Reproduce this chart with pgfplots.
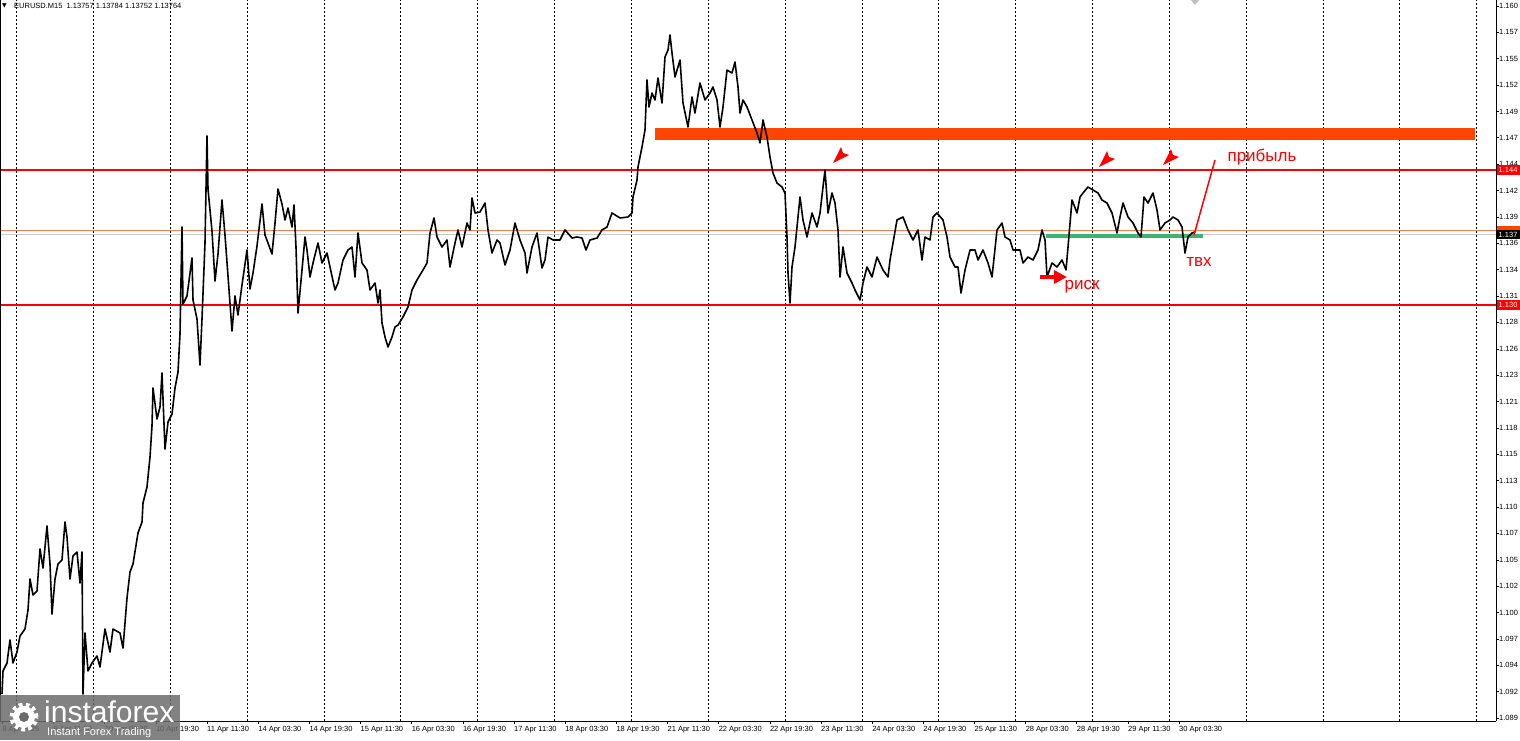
\documentclass[border=0pt]{standalone}
\usepackage{pgfplots}
\pgfplotsset{compat=1.18}
\usepackage{fontspec}
\setmainfont{Liberation Sans}
\newfontfamily\dejavu{DejaVu Sans}
\usetikzlibrary{arrows.meta}
\definecolor{obar}{RGB}{255,69,0}
\definecolor{oline}{RGB}{244,128,80}
\definecolor{gline}{RGB}{200,200,200}
\definecolor{grn}{RGB}{60,179,113}
\definecolor{mtred}{RGB}{255,0,0}
\newcommand{\tl}{\fontsize{7.5}{8}\selectfont}
\begin{document}
\begin{tikzpicture}
\begin{axis}[
  scale only axis, width=1496pt, height=721pt,
  xmin=0, xmax=1496, ymin=1.0888, ymax=1.1609,
  clip=false,
  axis x line*=bottom, axis y line*=right,
  axis line style={-, black, line width=0.8pt},
  tick align=outside,
  major tick length=3pt,
  tick style={black, line width=0.6pt},
  xtick={2.3,53.5,104.7,155.8,207,258.2,309.3,360.5,411.6,462.8,514,565.1,616.3,667.4,718.6,769.8,820.9,872.1,923.2,974.4,1025.6,1076.7,1127.9,1179},
  xticklabels={8 Apr 2025,9 Apr 11:30,10 Apr 03:30,10 Apr 19:30,11 Apr 11:30,14 Apr 03:30,14 Apr 19:30,15 Apr 11:30,16 Apr 03:30,16 Apr 19:30,17 Apr 11:30,18 Apr 03:30,18 Apr 19:30,21 Apr 11:30,22 Apr 03:30,22 Apr 19:30,23 Apr 11:30,24 Apr 03:30,24 Apr 19:30,25 Apr 11:30,28 Apr 03:30,28 Apr 19:30,29 Apr 11:30,30 Apr 03:30},
  xticklabel style={anchor=north west, inner sep=0pt, font=\tl, yshift=-2pt},
  ytick={1.1603,1.15766,1.15503,1.15239,1.14975,1.14712,1.14448,1.14184,1.1392,1.13657,1.13393,1.13129,1.12866,1.12602,1.12338,1.12074,1.11811,1.11547,1.11283,1.1102,1.10756,1.10492,1.10229,1.09965,1.09701,1.09438,1.09174,1.0891},
  yticklabels={1.160,1.157,1.155,1.152,1.149,1.147,1.144,1.142,1.139,1.136,1.134,1.131,1.128,1.126,1.123,1.121,1.118,1.115,1.113,1.110,1.107,1.105,1.102,1.100,1.097,1.094,1.092,1.089},
  yticklabel style={anchor=west, inner sep=0pt, font=\tl},
  extra x ticks={16.5,93.3,170.2,247,323.8,400.7,477.5,554.4,631.2,708.1,784.9,861.8,938.6,1015.5,1092.3,1169.2,1246,1322.9,1399.7,1476.6},
  extra x tick labels={},
  extra x tick style={grid=major, major tick length=0pt},
  major grid style={black, line width=0.6pt, dash pattern=on 2pt off 2pt},
]
% resistance / support levels
\addplot[obar, line width=12pt, forget plot] coordinates {(655,1.1475) (1475,1.1475)};
\addplot[mtred, line width=2pt, forget plot] coordinates {(0,1.1439) (1496,1.1439)};
\addplot[mtred, line width=2pt, forget plot] coordinates {(0,1.1304) (1496,1.1304)};
\addplot[oline, line width=1pt, forget plot] coordinates {(0,1.1378) (1496,1.1378)};
\addplot[gline, line width=1.5pt, forget plot] coordinates {(0,1.13745) (1496,1.13745)};
\addplot[grn, line width=4pt, forget plot] coordinates {(1046,1.1373) (1203,1.1373)};
% price
\addplot[black, line width=1.6pt, line join=round, forget plot] coordinates {
(2,1.0915) (3,1.0938) (7,1.0946) (10,1.0969) (13,1.0946) (17,1.0957) (20,1.0973) (25,1.0980) (28,1.0999) (30,1.1030)
(33,1.1014) (37,1.1018) (40,1.1060) (43,1.1041) (47,1.1083) (50,1.1045) (52,1.0995) (55,1.1030) (58,1.1045) (62,1.1049)
(65,1.1087) (67,1.1072) (70,1.1030) (73,1.1053) (77,1.1057) (80,1.1026) (82,1.1057) (83,1.0915) (85,1.0976) (88,1.0938)
(92,1.0946) (97,1.0953) (100,1.0942) (105,1.0980) (110,1.0957) (113,1.0980) (120,1.0976) (123,1.0961) (127,1.1011) (130,1.1037)
(133,1.1045) (138,1.1076) (142,1.1087) (143,1.1106) (147,1.1122) (150,1.1152) (152,1.1183) (153,1.1221) (157,1.1190) (160,1.1202)
(162,1.1236) (165,1.1160) (168,1.1187) (172,1.1195) (175,1.1221) (178,1.1237) (180,1.1275) (182,1.1382) (183,1.1305) (187,1.1313)
(192,1.1351) (193,1.1309) (197,1.1290) (200,1.1244) (202,1.1290) (205,1.1366) (207,1.1473) (208,1.1420) (212,1.1378) (215,1.1328)
(218,1.1355) (222,1.1409) (225,1.1374) (228,1.1333) (232,1.1278) (235,1.1313) (238,1.1294) (242,1.1324) (247,1.1359) (250,1.1320)
(253,1.1336) (257,1.1363) (262,1.1405) (265,1.1374) (268,1.1366) (272,1.1355) (275,1.1386) (278,1.1420) (282,1.1405) (285,1.1389)
(288,1.1401) (292,1.1382) (294,1.1404) (296,1.1362) (298,1.1296) (302,1.1339) (305,1.1372) (307,1.1359) (310,1.1332) (313,1.1346)
(318,1.1366) (322,1.1346) (327,1.1356) (330,1.1342) (335,1.1319) (338,1.1326) (343,1.1349) (348,1.1359) (352,1.1362) (355,1.1332)
(358,1.1376) (362,1.1346) (367,1.1339) (370,1.1319) (375,1.1326) (378,1.1306) (380,1.1319) (382,1.1286) (385,1.1272) (388,1.1262)
(392,1.1272) (395,1.1282) (398,1.1284) (403,1.1292) (408,1.1302) (412,1.1319) (417,1.1329) (423,1.1339) (427,1.1346) (430,1.1376)
(434,1.1391) (437,1.1372) (442,1.1362) (447,1.1369) (450,1.1342) (455,1.1366) (458,1.1379) (462,1.1362) (467,1.1386) (470,1.1379)
(472,1.1411) (475,1.1396) (480,1.1397) (485,1.1406) (488,1.1379) (492,1.1356) (497,1.1369) (500,1.1366) (505,1.1344) (510,1.1359)
(515,1.1386) (520,1.1369) (525,1.1356) (527,1.1336) (532,1.1362) (537,1.1376) (542,1.1341) (545,1.1349) (548,1.1372) (553,1.1369)
(560,1.1369) (565,1.1379) (572,1.1371) (577,1.1372) (582,1.1371) (586,1.1359) (590,1.1369) (597,1.1371) (602,1.1379) (607,1.1382)
(612,1.1396) (620,1.1391) (628,1.1392) (632,1.1396) (633,1.1412) (637,1.1429) (638,1.1442) (642,1.1462) (645,1.1479) (647,1.1529)
(649,1.1502) (652,1.1516) (655,1.1509) (658,1.1531) (662,1.1506) (665,1.1552) (668,1.1559) (670,1.1574) (672,1.1556) (675,1.1532)
(680,1.1549) (683,1.1506) (688,1.1482) (692,1.1512) (695,1.1496) (700,1.1526) (705,1.1509) (710,1.1516) (713,1.1522) (717,1.1509)
(720,1.1482) (723,1.1502) (727,1.1539) (732,1.1536) (735,1.1547) (738,1.1522) (740,1.1496) (743,1.1509) (747,1.1502) (752,1.1489)
(757,1.1476) (760,1.1466) (763,1.1489) (767,1.1472) (770,1.1452) (773,1.1436) (777,1.1426) (782,1.1422) (785,1.1416) (787,1.1372)
(788,1.1336) (790,1.1306) (792,1.1342) (795,1.1362) (800,1.1412) (803,1.1389) (807,1.1372) (812,1.1396) (817,1.1382) (820,1.1396)
(823,1.1422) (825,1.1439) (828,1.1396) (832,1.1416) (835,1.1406) (838,1.1379) (840,1.1332) (843,1.1362) (847,1.1336) (852,1.1326)
(855,1.1319) (860,1.1309) (863,1.1326) (867,1.1342) (872,1.1332) (877,1.1352) (883,1.1339) (888,1.1332) (890,1.1349) (893,1.1366)
(897,1.1389) (903,1.1392) (908,1.1379) (913,1.1369) (918,1.1379) (922,1.1349) (925,1.1372) (930,1.1369) (933,1.1392) (937,1.1396)
(943,1.1389) (947,1.1372) (950,1.1352) (955,1.1342) (958,1.1342) (961,1.1316) (965,1.1339) (970,1.1359) (975,1.1359) (978,1.1349)
(983,1.1359) (988,1.1346) (992,1.1332) (997,1.1379) (1002,1.1386) (1005,1.1372) (1010,1.1369) (1013,1.1359) (1020,1.1359) (1023,1.1346)
(1028,1.1352) (1033,1.1349) (1038,1.1359) (1042,1.1379) (1045,1.1369) (1047,1.1332) (1052,1.1346) (1057,1.1342) (1062,1.1349) (1066,1.1339)
(1068,1.1362) (1072,1.1409) (1077,1.1396) (1080,1.1412) (1083,1.1416) (1088,1.1422) (1093,1.1419) (1098,1.1416) (1102,1.1409) (1107,1.1406)
(1112,1.1396) (1117,1.1376) (1120,1.1392) (1123,1.1406) (1128,1.1392) (1133,1.1386) (1138,1.1376) (1141,1.1372) (1144,1.1412) (1148,1.1406)
(1153,1.1416) (1157,1.1399) (1160,1.1379) (1165,1.1386) (1170,1.1389) (1173,1.1392) (1178,1.1389) (1182,1.1382) (1185,1.1356) (1188,1.1372)
(1192,1.1376) (1195,1.1377)
};
% annotations
\fill[mtred] (axis cs:833,1.1446) -- ++(8pt,16pt) -- ++(2pt,-6pt) -- ++(6pt,-2pt) -- cycle;
\fill[mtred] (axis cs:1099,1.1442) -- ++(8pt,16pt) -- ++(2pt,-6pt) -- ++(6pt,-2pt) -- cycle;
\fill[mtred] (axis cs:1163,1.1444) -- ++(8pt,16pt) -- ++(2pt,-6pt) -- ++(6pt,-2pt) -- cycle;
\draw[mtred, line width=4pt, -{Triangle[length=13pt,width=13pt]}] (axis cs:1040,1.1332) -- (axis cs:1067,1.1332);
\draw[mtred, line width=1.5pt] (axis cs:1215,1.1449) -- (axis cs:1194,1.1374);
\node[text=mtred, font=\fontsize{17}{17}\selectfont, inner sep=0pt] at (axis cs:1262,1.1452) {прибыль};
\node[text=mtred, font=\fontsize{17}{17}\selectfont, inner sep=0pt] at (axis cs:1199,1.1347) {твх};
\node[text=mtred, font=\fontsize{17}{17}\selectfont, inner sep=0pt] at (axis cs:1082,1.1322) {риск};
% title
\node[anchor=west, inner sep=0pt, font=\dejavu\fontsize{6}{6}\selectfont] at (axis cs:2,1.1603) {▼};
\node[anchor=west, inner sep=0pt, font=\tl] at (axis cs:14,1.1603) {EURUSD.M15\ \ 1.13757 1.13784 1.13752 1.13764};
\fill[gray!50] (axis cs:1191,1.1609) -- (axis cs:1199,1.1609) -- (axis cs:1195,1.1604) -- cycle;
% price labels on the scale
\fill[obar] (axis cs:1496.5,1.1383) rectangle (axis cs:1525,1.1374);
\node[fill=black, text=white, anchor=west, inner xsep=2pt, inner ysep=0pt, minimum height=9pt, text width=26pt, align=left, font=\tl] at (axis cs:1496.5,1.1374) {1.137};
\node[fill=mtred, text=white, anchor=west, inner xsep=2pt, inner ysep=0pt, minimum height=10pt, text width=26pt, align=left, font=\tl] at (axis cs:1496.5,1.1439) {1.144};
\node[fill=mtred, text=white, anchor=west, inner xsep=2pt, inner ysep=0pt, minimum height=10pt, text width=26pt, align=left, font=\tl] at (axis cs:1496.5,1.1304) {1.130};
\end{axis}
\draw[black, line width=0.8pt] (0,0) -- (0,721pt);
% logo
\fill[gray!85!black, opacity=0.85] (0,26pt) rectangle (180pt,-19pt);
\draw[white, line width=5pt, dash pattern=on 3.5pt off 3.2pt] (24pt,4pt) circle (12pt);
\fill[white] (24pt,4pt) circle (11pt);
\fill[gray!85!black] (24pt,4pt) circle (5pt);
\node[anchor=base west, text=white, inner sep=0pt, font=\fontsize{30}{30}\selectfont] at (44pt,-1pt) {instaforex};
\node[anchor=base west, text=white, inner sep=0pt, font=\fontsize{11}{11}\selectfont] at (47pt,-14pt) {Instant Forex Trading};
\pgfresetboundingbox
\useasboundingbox (0,-19pt) rectangle (1520pt,721pt);
\end{tikzpicture}
\end{document}
